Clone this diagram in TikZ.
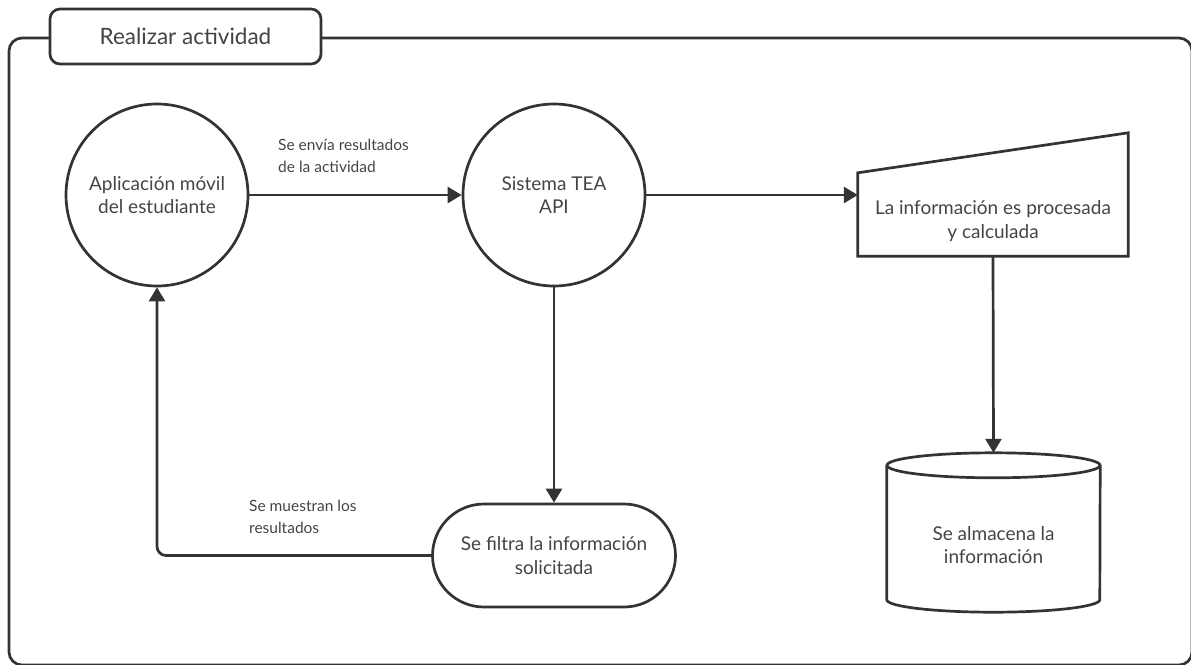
\documentclass[tikz,border=0pt]{standalone}
\usepackage{fontspec}
\setmainfont{Lato}
\usetikzlibrary{arrows.meta,shapes.misc}
\definecolor{ln}{HTML}{333333}
\definecolor{tx}{HTML}{444444}
\begin{document}
\begin{tikzpicture}[x=1pt,y=-1pt,
  lw/.style={line width=2.7pt, draw=ln},
  arr/.style={lw, -{Triangle[length=14pt,width=16pt]}},
  ntext/.style={text=tx, font=\fontsize{19}{23.5}\selectfont, align=center},
  ltext/.style={text=tx, font=\fontsize{15.5}{22}\selectfont, align=left, anchor=west, inner sep=0pt},
  proc/.style={circle, lw, minimum size=182pt, inner sep=0pt, ntext},
]
\useasboundingbox (0,0) rectangle (1191,664);
\clip (0,0) rectangle (1191,664);
% frame
\draw[lw, rounded corners=13pt] (9,38) rectangle (1192,665);
\node (title) [lw, fill=white, rounded corners=10pt, minimum width=271pt, minimum height=55pt, inner sep=0pt,
  text=tx, font=\fontsize{22.5}{26}\selectfont] at (185.5,36.5) {Realizar actividad};
% circles
\node (app) [proc] at (157,195) {Aplicación móvil\\del estudiante};
\node (tea) [proc] at (554,195) {Sistema TEA\\API};
% trapezoid
\node (calc) [minimum width=270pt, minimum height=70pt, inner sep=0pt, ntext] at (993,221)
  {La información es procesada\\y calculada};
\draw[lw, line join=miter] (calc.south west) -- ([yshift=13pt]calc.north west)
  -- ([yshift=53pt]calc.north east) -- (calc.south east) -- cycle;
% cylinder
\node (db) [minimum width=213pt, minimum height=159pt, inner sep=0pt] at (993.5,532.5) {};
\node (dbtext) [ntext] at (993.5,545) {Se almacena la\\información};
\draw[lw] ([yshift=-12.5pt]db.north) ellipse [x radius=106.5pt, y radius=12.5pt];
\draw[lw] ([yshift=-12.5pt]db.north west) -- ([yshift=12.5pt]db.south west)
  arc[start angle=180, end angle=360, x radius=106.5pt, y radius=12.5pt]
  -- ([yshift=-12.5pt]db.north east);
% stadium
\node (filt) [rounded rectangle, lw, minimum width=243pt, minimum height=103pt, inner sep=0pt, ntext]
  at (554,555.5) {Se filtra la información\\solicitada};
% connectors
\draw[arr] (app.east) -- (tea.west);
\draw[arr] (tea.east) -- (tea.east -| calc.west);
\draw[arr] (calc.south) -- (db.north);
\draw[arr] (tea.south) -- (filt.north);
\draw[arr, rounded corners=9pt] (filt.west) -- (filt.west -| app.south) -- (app.south);
% labels
\node (l1) [ltext] at (278,156) {Se envía resultados\\de la actividad};
\node (l2) [ltext] at (249,516.5) {Se muestran los\\resultados};
\end{tikzpicture}
\end{document}
